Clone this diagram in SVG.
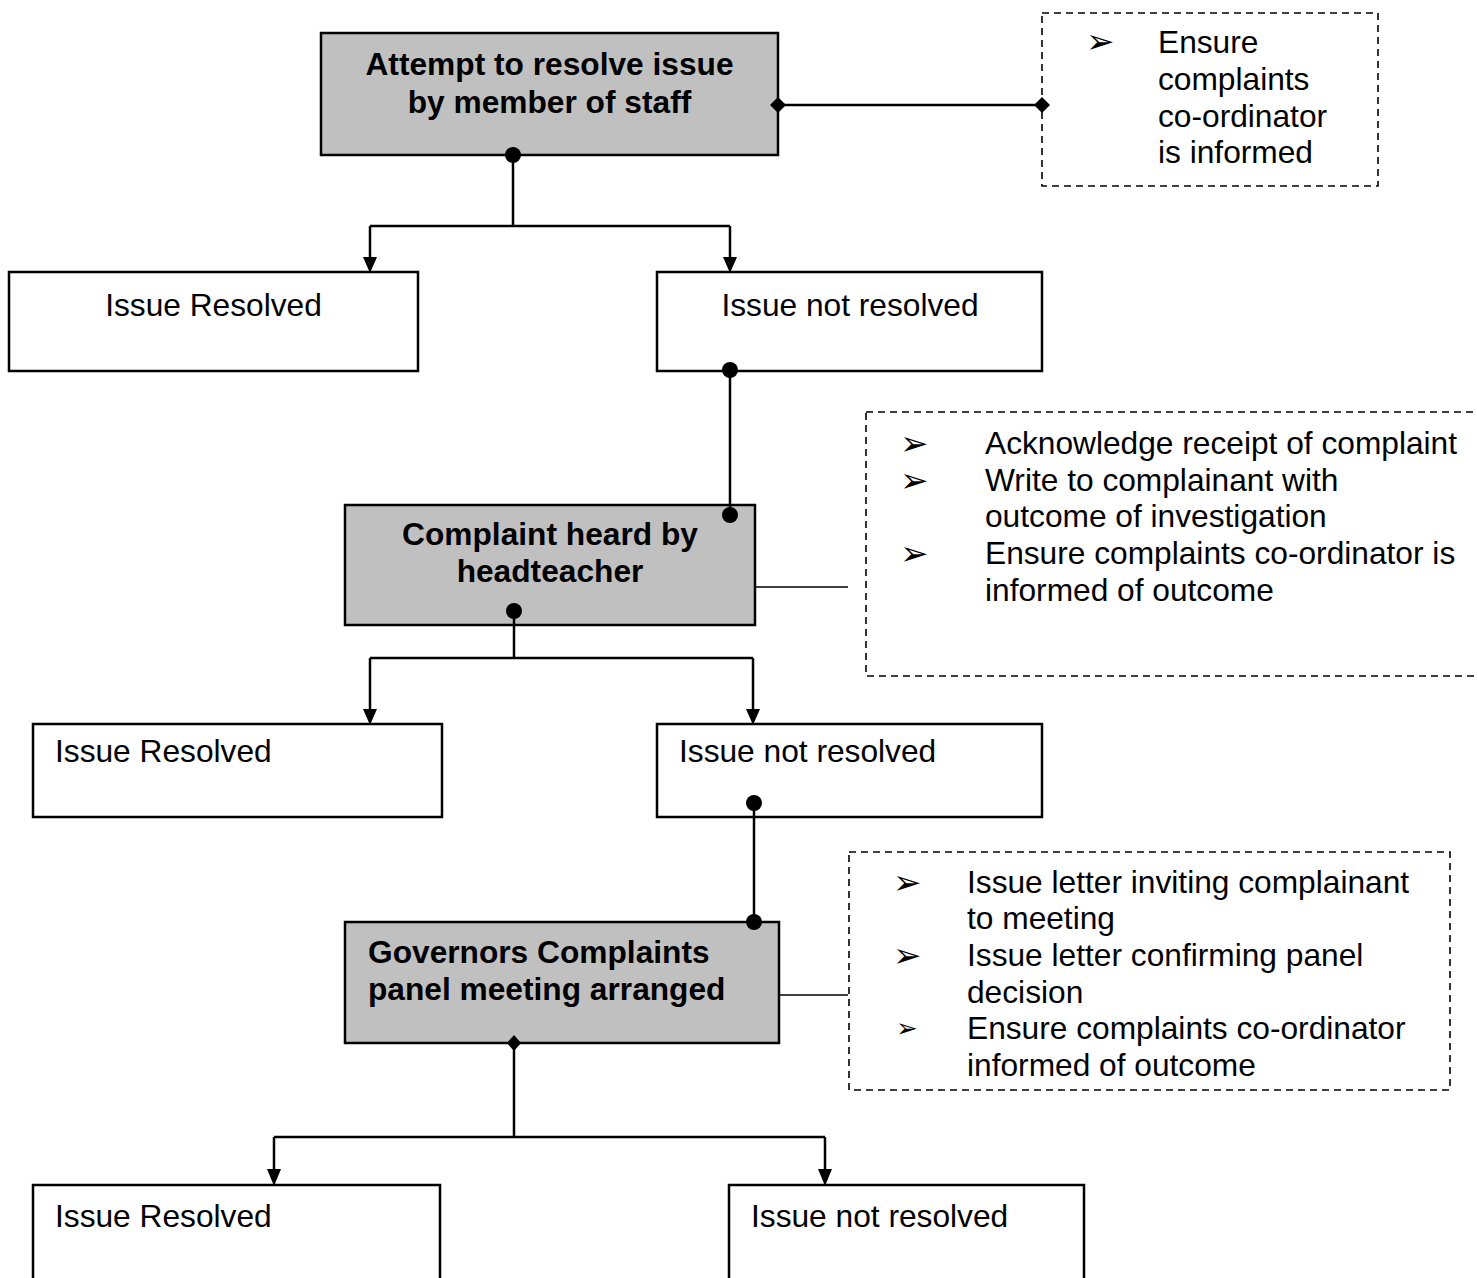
<svg xmlns="http://www.w3.org/2000/svg" width="1477" height="1278" viewBox="0 0 1477 1278">
<style>
.bg{fill:#ffffff}
.main{fill:#c0c0c0;stroke:#000;stroke-width:2.5}
.box{fill:#ffffff;stroke:#000;stroke-width:2.5}
.note{fill:none;stroke:#000;stroke-width:1.6;stroke-dasharray:7 5}
.t{font-family:"Liberation Sans",Arial,sans-serif;font-size:31.7px;fill:#000}
.b{font-family:"Liberation Sans",Arial,sans-serif;font-size:31.7px;font-weight:bold;fill:#000}
.bul{font-family:"DejaVu Sans",sans-serif;font-size:34px;fill:#000}
.ln{fill:none;stroke:#000;stroke-width:2.5}
.thin{fill:none;stroke:#000;stroke-width:1.6}
.dot{fill:#000}
</style>
<rect class="bg" x="0" y="0" width="1477" height="1278"/>

<g id="n-attempt">
<rect class="main" x="321" y="33" width="457" height="122"/>
<text class="b" x="549.5" y="75" text-anchor="middle">Attempt to resolve issue</text>
<text class="b" x="549.5" y="113" text-anchor="middle">by member of staff</text>
</g>

<g id="note1">
<rect class="note" x="1042" y="13" width="336" height="173"/>
<text class="bul" x="1086" y="53">➢</text>
<text class="t" x="1158" y="53">Ensure</text>
<text class="t" x="1158" y="90">complaints</text>
<text class="t" x="1158" y="127">co-ordinator</text>
<text class="t" x="1158" y="163">is informed</text>
</g>

<g id="n-resolved1">
<rect class="box" x="9" y="272" width="409" height="99"/>
<text class="t" x="213.5" y="316" text-anchor="middle">Issue Resolved</text>
</g>

<g id="n-notresolved1">
<rect class="box" x="657" y="272" width="385" height="99"/>
<text class="t" x="850" y="316" text-anchor="middle">Issue not resolved</text>
</g>

<g id="n-headteacher">
<rect class="main" x="345" y="505" width="410" height="120"/>
<text class="b" x="550" y="545" text-anchor="middle">Complaint heard by</text>
<text class="b" x="550" y="582" text-anchor="middle">headteacher</text>
</g>

<g id="note2">
<rect class="note" x="866" y="412" width="640" height="264"/>
<text class="bul" x="900" y="455">➢</text>
<text class="t" x="985" y="454">Acknowledge receipt of complaint</text>
<text class="bul" x="900" y="492">➢</text>
<text class="t" x="985" y="491">Write to complainant with</text>
<text class="t" x="985" y="527">outcome of investigation</text>
<text class="bul" x="900" y="565">➢</text>
<text class="t" x="985" y="564">Ensure complaints co-ordinator is</text>
<text class="t" x="985" y="601">informed of outcome</text>
</g>

<g id="n-resolved2">
<rect class="box" x="33" y="724" width="409" height="93"/>
<text class="t" x="55" y="762">Issue Resolved</text>
</g>

<g id="n-notresolved2">
<rect class="box" x="657" y="724" width="385" height="93"/>
<text class="t" x="679" y="762">Issue not resolved</text>
</g>

<g id="n-governors">
<rect class="main" x="345" y="922" width="434" height="121"/>
<text class="b" x="368" y="963">Governors Complaints</text>
<text class="b" x="368" y="1000">panel meeting arranged</text>
</g>

<g id="note3">
<rect class="note" x="849" y="852" width="601" height="238"/>
<text class="bul" x="893" y="894">➢</text>
<text class="t" x="967" y="893">Issue letter inviting complainant</text>
<text class="t" x="967" y="929">to meeting</text>
<text class="bul" x="893" y="967">➢</text>
<text class="t" x="967" y="966">Issue letter confirming panel</text>
<text class="t" x="967" y="1003">decision</text>
<text class="bul" x="896" y="1037" style="font-size:26px">➢</text>
<text class="t" x="967" y="1039">Ensure complaints co-ordinator</text>
<text class="t" x="967" y="1076">informed of outcome</text>
</g>

<g id="n-resolved3">
<rect class="box" x="33" y="1185" width="407" height="120"/>
<text class="t" x="55" y="1227">Issue Resolved</text>
</g>

<g id="n-notresolved3">
<rect class="box" x="729" y="1185" width="355" height="120"/>
<text class="t" x="751" y="1227">Issue not resolved</text>
</g>

<g id="connectors">
<path class="ln" d="M513,155 V226"/>
<path class="ln" d="M370,226 H730"/>
<path class="ln" d="M370,226 V260"/>
<path class="ln" d="M730,226 V260"/>
<polygon points="363,257 377,257 370,273" class="dot"/>
<polygon points="723,257 737,257 730,273" class="dot"/>
<circle class="dot" cx="513" cy="155" r="8"/>
<path class="ln" d="M778,105 H1042"/>
<polygon class="dot" points="770,105 778,97 786,105 778,113"/>
<polygon class="dot" points="1034,105 1042,97 1050,105 1042,113"/>
<path class="ln" d="M730,371 V514"/>
<circle class="dot" cx="730" cy="370" r="8"/>
<circle class="dot" cx="730" cy="515" r="8"/>
<path class="ln" d="M514,611 V658"/>
<circle class="dot" cx="514" cy="611" r="8"/>
<path class="ln" d="M370,658 H753"/>
<path class="ln" d="M370,658 V712"/>
<path class="ln" d="M753,658 V712"/>
<polygon points="363,709 377,709 370,725" class="dot"/>
<polygon points="746,709 760,709 753,725" class="dot"/>
<path class="thin" d="M755,587 H848"/>
<path class="ln" d="M754,803 V922"/>
<circle class="dot" cx="754" cy="803" r="8"/>
<circle class="dot" cx="754" cy="922" r="8"/>
<path class="ln" d="M514,1043 V1137"/>
<polygon class="dot" points="507,1043 514,1035 521,1043 514,1051"/>
<path class="ln" d="M274,1137 H825"/>
<path class="ln" d="M274,1137 V1172"/>
<path class="ln" d="M825,1137 V1172"/>
<polygon points="267,1169 281,1169 274,1186" class="dot"/>
<polygon points="818,1169 832,1169 825,1186" class="dot"/>
<path class="thin" d="M779,995 H848"/>
</g>
</svg>
